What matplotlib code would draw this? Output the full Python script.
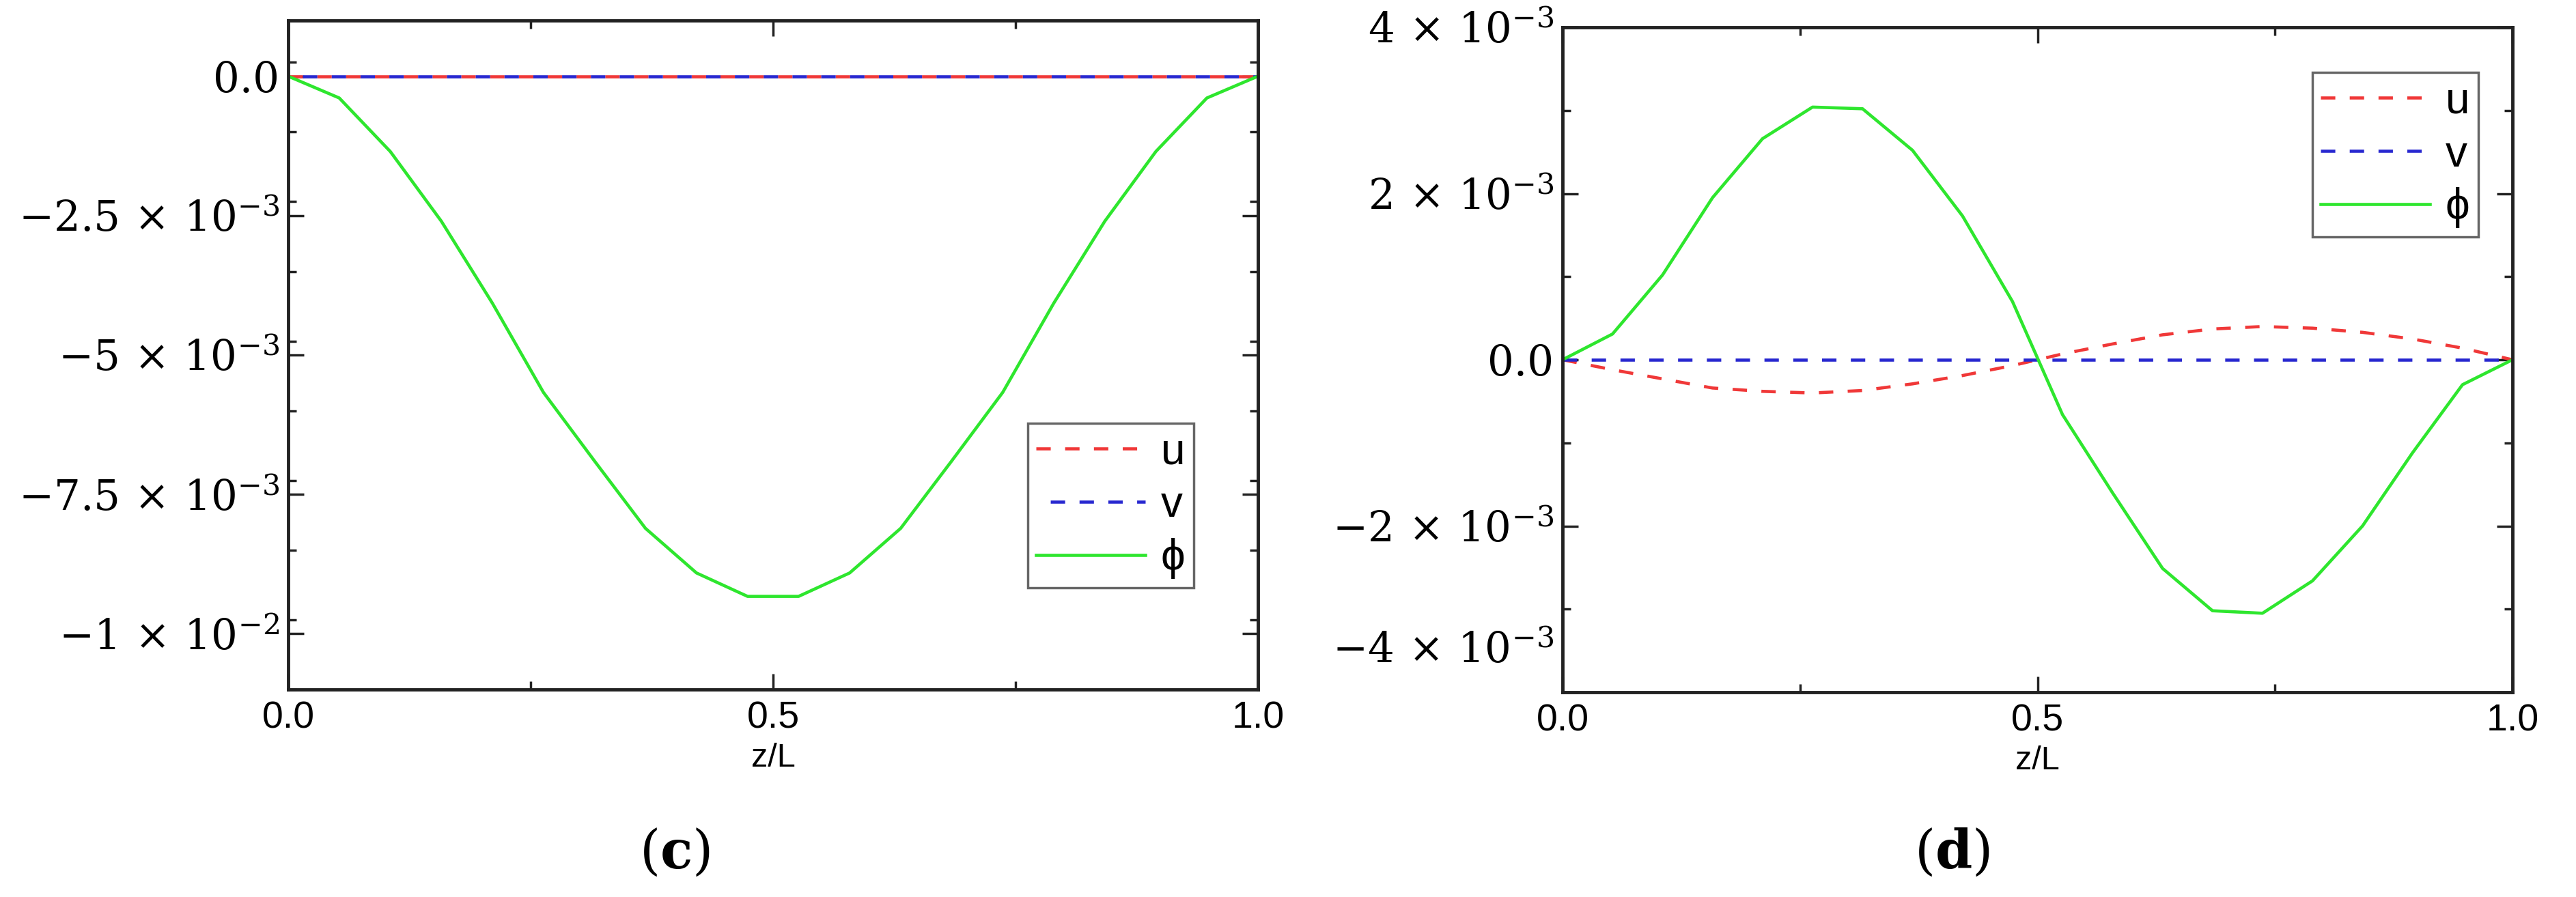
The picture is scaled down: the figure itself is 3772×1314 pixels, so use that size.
import numpy as np
import matplotlib.pyplot as plt
from matplotlib.ticker import FixedLocator, FixedFormatter
from matplotlib.transforms import ScaledTranslation

plt.rcParams['mathtext.fontset'] = 'dejavuserif'

# z/L nodes (20 points)
z = np.arange(20) / 19

# panel (c): u = v = 0, phi bell shaped (values in 1e-3)
phi_c = [0.0, -0.39, -1.35, -2.60, -4.07, -5.67, -6.90, -8.11, -8.91, -9.33,
         -9.33, -8.91, -8.11, -6.90, -5.67, -4.07, -2.60, -1.35, -0.39, 0.0]
u_c = [0.0] * 20
v_c = [0.0] * 20

# panel (d)
phi_d = [0.0, 0.31, 1.02, 1.95, 2.66, 3.04, 3.02, 2.52, 1.73, 0.70,
         -0.66, -1.60, -2.51, -3.02, -3.05, -2.66, -2.00, -1.12, -0.30, 0.0]
u_d = [0.0, -0.12, -0.23, -0.34, -0.38, -0.40, -0.37, -0.29, -0.19, -0.07,
       0.07, 0.19, 0.30, 0.37, 0.40, 0.38, 0.33, 0.25, 0.14, 0.0]
v_d = [0.0] * 20

yticks_c = [0.0, -2.5e-3, -5e-3, -7.5e-3, -1e-2]
ylabels_c = ['0.0', r'$-2.5\,\times\,10^{-3}$', r'$-5\,\times\,10^{-3}$',
             r'$-7.5\,\times\,10^{-3}$', r'$-1\,\times\,10^{-2}$']
yticks_d = [4e-3, 2e-3, 0.0, -2e-3, -4e-3]
ylabels_d = [r'$4\,\times\,10^{-3}$', r'$2\,\times\,10^{-3}$', '0.0',
             r'$-2\,\times\,10^{-3}$', r'$-4\,\times\,10^{-3}$']
xticks = [0.0, 0.5, 1.0]
xlabels = ['0.0', '0.5', '1.0']

RED = '#f03838'
BLUE = '#2828d0'
GREEN = '#2ee62e'
SANS = ['Liberation Sans', 'DejaVu Sans']
LW = 3.3

fig = plt.figure(figsize=(37.73, 13.14), dpi=100)
ax1 = fig.add_axes([422/3773, 1-1010/1314, 1420/3773, 980/1314])
ax2 = fig.add_axes([2288/3773, 1-1014/1314, 1391/3773, 974/1314])


def draw(ax, u, v, phi, ylim, yt, yl, ymin_step, v_offset):
    ax.plot(z, np.array(u) * 1e-3, color=RED, lw=LW, ls=(0, (4.6, 4.6)), label='u')
    ax.plot(z, np.array(v) * 1e-3, color=BLUE, lw=LW, ls=(v_offset, (4.6, 4.6)),
            label='v')
    ax.plot(z, np.array(phi) * 1e-3, color=GREEN, lw=LW, label='ϕ')
    ax.set_xlim(0, 1)
    ax.set_ylim(*ylim)
    ax.xaxis.set_major_locator(FixedLocator(xticks))
    ax.xaxis.set_major_formatter(FixedFormatter(xlabels))
    ax.xaxis.set_minor_locator(FixedLocator([0.25, 0.75]))
    ax.yaxis.set_major_locator(FixedLocator(yt))
    ax.yaxis.set_major_formatter(FixedFormatter(yl))
    ax.yaxis.set_minor_locator(FixedLocator(np.arange(ylim[0], ylim[1] + 1e-9, ymin_step)))
    ax.tick_params(which='both', direction='in', top=True, right=True,
                   width=2.5, color='#222222')
    ax.tick_params(which='major', length=16.5)
    ax.tick_params(which='minor', length=8.5)
    ax.tick_params(axis='x', pad=12, labelsize=40)
    ax.tick_params(axis='y', pad=9, labelsize=44)
    for lab in ax.get_xticklabels():
        lab.set_family(SANS)
    for lab in ax.get_yticklabels():
        lab.set_family('DejaVu Serif')
    for s in ax.spines.values():
        s.set_linewidth(3.5)
        s.set_color('#222222')
    ax.set_xlabel('z/L', fontsize=35, family=SANS, labelpad=7)


draw(ax1, u_c, v_c, phi_c, (-0.011, 0.001), yticks_c, ylabels_c, 1.25e-3, 4.6)
draw(ax2, u_d, v_d, phi_d, (-0.004, 0.004), yticks_d, ylabels_d, 1e-3, 0)

# bottom label of panel (d) sits a little above its tick, as in the original
low = ax2.get_yticklabels()[-1]
low.set_transform(low.get_transform() + ScaledTranslation(0, 0.66, fig.dpi_scale_trans))

leg_kw = dict(prop={'family': SANS, 'size': 46}, handlelength=2.5,
              handletextpad=0.35, labelspacing=0.28, borderpad=0.2,
              fancybox=False, edgecolor='#666666', framealpha=1,
              bbox_transform=fig.transFigure)
l1 = ax1.legend(loc='lower right', bbox_to_anchor=(1780/3773, 1-893/1314), **leg_kw)
l2 = ax2.legend(loc='upper right', bbox_to_anchor=(3661/3773, 1-74/1314), **leg_kw)
for l in (l1, l2):
    l.get_frame().set_linewidth(2.5)

fig.text(988/3773, 1-1250/1314, r'($\mathbf{c}$)', fontsize=56,
         family='DejaVu Serif', ha='center', va='center')
fig.text(2858/3773, 1-1250/1314, r'($\mathbf{d}$)', fontsize=56,
         family='DejaVu Serif', ha='center', va='center')

fig.savefig('out.png', dpi=100)
